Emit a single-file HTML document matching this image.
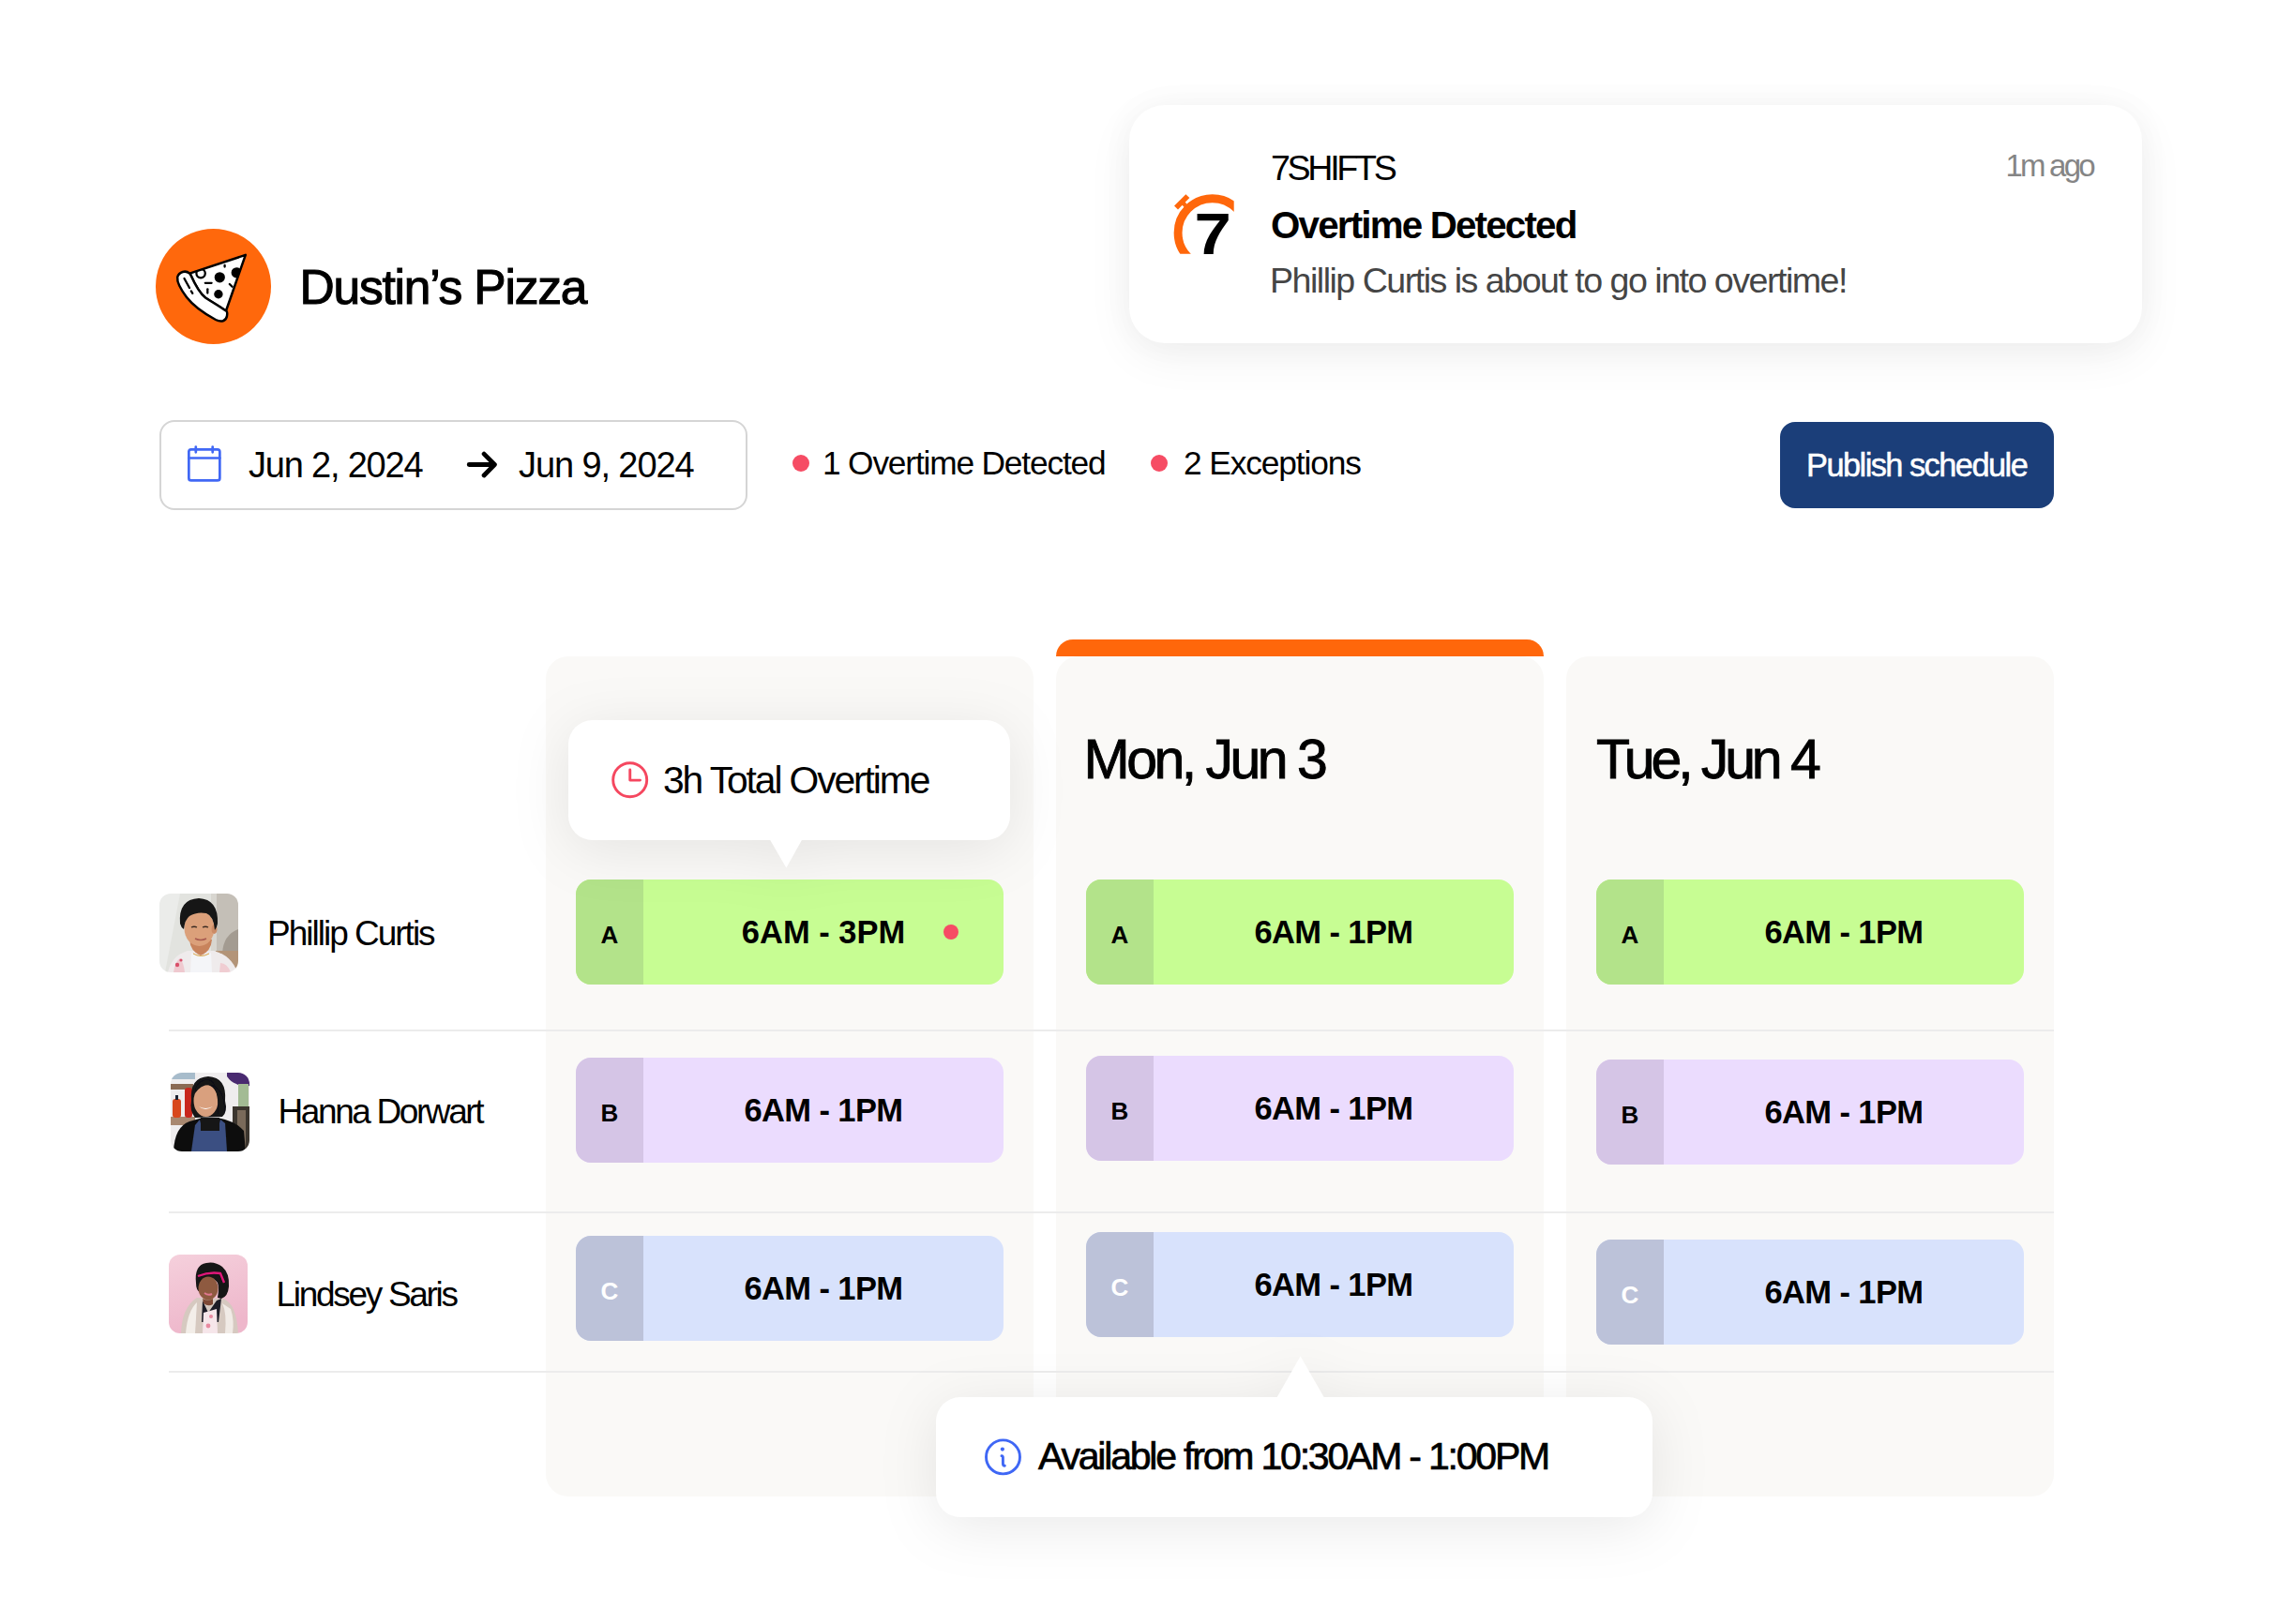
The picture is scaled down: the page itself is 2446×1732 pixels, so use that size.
<!DOCTYPE html>
<html><head><meta charset="utf-8">
<style>
*{margin:0;padding:0;box-sizing:border-box}
html,body{width:2446px;height:1732px;background:#fff;overflow:hidden}
body{position:relative;font-family:"Liberation Sans",Arial,sans-serif;color:#000}
.a{position:absolute}
.t{position:absolute;white-space:nowrap;line-height:1}
.panel{position:absolute;top:700px;width:520px;height:896px;background:#faf9f7;border-radius:24px}
.line{position:absolute;left:180px;width:2010px;height:2px;background:#ececec}
.shift{position:absolute;width:456px;height:112px;border-radius:16px;overflow:hidden}
.shift .tab{position:absolute;left:0;top:0;width:72px;height:100%}
.shift .ltr{position:absolute;left:0;width:72px;text-align:center;font-weight:700;font-size:26px;top:45.6px;line-height:1}
.shift .tm{position:absolute;left:72px;right:0;text-align:center;font-weight:700;font-size:34.5px;top:38.7px;line-height:1;letter-spacing:-0.6px}
.ga{background:#c7fd93}.ga .tab{background:#b3e38a}
.gb{background:#ebdcfe}.gb .tab{background:#d5c5e6}
.gc{background:#d8e2fc}.gc .tab{background:#bcc2d9}.gc .ltr{color:#fff}
.name{position:absolute;font-size:37px;letter-spacing:-2.4px;white-space:nowrap;line-height:1}
.av{position:absolute;width:84px;height:84px;border-radius:12px;overflow:hidden}
</style></head>
<body>

<!-- Logo -->
<div class="a" style="left:166px;top:244px;width:123px;height:123px;border-radius:50%;background:#ff680c"></div>
<div class="t" style="left:319.5px;top:281px;font-size:51.5px;letter-spacing:-1.2px;-webkit-text-stroke:1.1px #000">Dustin’s Pizza</div>


<!-- Pizza icon -->
<svg class="a" style="left:166px;top:244px" width="123" height="123" viewBox="166 244 123 123">
 <g fill="#fff" stroke="#000" stroke-width="2.5" stroke-linecap="round" stroke-linejoin="round">
  <path d="M202.2 291.6 L261.8 271.9 L241 331.5 C236 328 226 322 219 317.5 C213 313 209 306 203.3 293.3 Z"/>
  <path d="M202.2 291.6 C198 288 191 289.5 189.2 295.5 C188.5 301 193 309 199 317 C206 326 217 334 230 341 C236 344 241 342.5 242 337 C242.5 334 242 332 241 331.5 C236 328 226 322 219 317.5 C213 313 209 306 203.3 293.3 Z"/>
 </g>
 <g fill="#000">
  <circle cx="234.3" cy="295.8" r="5.6"/>
  <circle cx="232.9" cy="313.8" r="4.7"/>
 </g>
 <clipPath id="pz"><path d="M202.2 291.6 L261.8 271.9 L241 331.5 Z"/></clipPath>
 <g clip-path="url(#pz)">
  <circle cx="252.2" cy="290.8" r="5.6" fill="#000"/>
  <circle cx="214.1" cy="291.6" r="4.7" fill="none" stroke="#000" stroke-width="2.3"/>
 </g>
 <g stroke="#000" stroke-width="2.3" stroke-linecap="round" fill="none">
  <path d="M218.8 301.8 H225.6"/>
  <path d="M221.3 308.3 V312.6"/>
  <path d="M239.6 282.8 V284.6"/>
  <path d="M244.8 303 L247.6 305.8"/>
  <path d="M196.5 297 L202 307"/>
  <path d="M203.8 310.4 L205.3 312.8"/>
 </g>
</svg>

<!-- Calendar -->
<svg class="a" style="left:195px;top:470px" width="45" height="50" viewBox="195 470 45 50">
 <g fill="none" stroke="#4168f5" stroke-width="2.7" stroke-linecap="round" stroke-linejoin="round">
  <rect x="201.35" y="479.35" width="33" height="33.1" rx="2.5"/>
  <path d="M201.35 488.5 H234.35"/>
  <path d="M208.8 476.5 V482.3 M226.7 476.5 V482.3"/>
 </g>
</svg>

<!-- Arrow -->
<svg class="a" style="left:490px;top:475px" width="50" height="45" viewBox="490 475 50 45">
 <path d="M500.2 495.5 H527 M516.1 484.1 L527.4 495.5 L516.1 507" fill="none" stroke="#000" stroke-width="4.8" stroke-linecap="round" stroke-linejoin="round"/>
</svg>

<!-- Notification -->
<div class="a" style="left:1204px;top:112px;width:1080px;height:254px;border-radius:38px;background:#fff;box-shadow:0 0 36px rgba(0,0,0,0.035),0 14px 50px rgba(0,0,0,0.06)"></div>
<!-- 7shifts logo -->
<svg class="a" style="left:1240px;top:195px" width="90" height="90" viewBox="1240 195 90 90">
 <clipPath id="sc"><path d="M1240 195 H1315.7 V248 H1292.7 V270.7 H1240Z"/></clipPath>
 <g clip-path="url(#sc)">
  <circle cx="1292.7" cy="248.3" r="36.6" fill="none" stroke="#ff670b" stroke-width="8.9"/>
 </g>
 <g transform="rotate(-45 1260.2 215.3)" fill="#ff670b">
  <rect x="1251.45" y="212.5" width="17.5" height="5.6"/>
  <rect x="1258" y="216" width="4.4" height="5"/>
 </g>
 <text transform="translate(1273.6 270.8) scale(1.13 1)" font-family="Liberation Sans, Arial, sans-serif" font-weight="700" font-size="62.7" fill="#000">7</text>
</svg>

<div class="t" style="left:1355px;top:161px;font-size:37.6px;letter-spacing:-3.3px">7SHIFTS</div>
<div class="t" style="left:1355px;top:221px;font-size:40.3px;font-weight:700;letter-spacing:-1.8px">Overtime Detected</div>
<div class="t" style="left:1354px;top:281px;font-size:37.6px;color:#454545;letter-spacing:-1.5px">Phillip Curtis is about to go into overtime!</div>
<div class="t" style="left:2138.5px;top:160px;font-size:33px;color:#858585;letter-spacing:-2.8px">1m ago</div>

<!-- Date box -->
<div class="a" style="left:170px;top:448px;width:627px;height:96px;border:2px solid #d5d5d5;border-radius:16px"></div>
<div class="t" style="left:265px;top:477px;font-size:38px;letter-spacing:-1.2px">Jun 2, 2024</div>
<div class="t" style="left:553px;top:477px;font-size:38px;letter-spacing:-1.1px">Jun 9, 2024</div>
<div class="a" style="left:845px;top:485px;width:18px;height:18px;border-radius:50%;background:#f64c64"></div>
<div class="t" style="left:877px;top:476px;font-size:35.3px;letter-spacing:-1.17px">1 Overtime Detected</div>
<div class="a" style="left:1227px;top:485px;width:18px;height:18px;border-radius:50%;background:#f64c64"></div>
<div class="t" style="left:1262px;top:476px;font-size:35.3px;letter-spacing:-1.1px">2 Exceptions</div>

<!-- Button -->
<div class="a" style="left:1898px;top:450px;width:292px;height:92px;border-radius:16px;background:#1b3e79"></div>
<div class="t" style="left:1926px;top:479px;font-size:34.4px;color:#fff;letter-spacing:-1.55px;-webkit-text-stroke:0.5px #fff">Publish schedule</div>

<!-- Panels -->
<div class="panel" style="left:582px"></div>
<div class="a" style="left:1126px;top:682px;width:520px;height:18px;border-radius:20px 20px 0 0;background:#ff670b"></div>
<div class="panel" style="left:1126px"></div>
<div class="panel" style="left:1670px"></div>

<div class="t" style="left:1155.5px;top:780.5px;font-size:59px;letter-spacing:-3.5px;-webkit-text-stroke:0.9px #000">Mon, Jun 3</div>
<div class="t" style="left:1702px;top:780.5px;font-size:59px;letter-spacing:-4.1px;-webkit-text-stroke:0.9px #000">Tue, Jun 4</div>

<!-- Row lines -->
<div class="line" style="top:1098px"></div>
<div class="line" style="top:1292px"></div>
<div class="line" style="top:1462px"></div>


<!-- Avatars -->
<svg class="av" style="left:170px;top:953px" viewBox="0 0 84 84">
 <defs><filter id="bl1" x="-10%" y="-10%" width="120%" height="120%"><feGaussianBlur stdDeviation="0.6"/></filter></defs>
 <g filter="url(#bl1)">
 <rect width="84" height="84" fill="#e2e3df"/>
 <path d="M0 0 H22 L6 84 H0Z" fill="#ebecea"/>
 <rect x="55" y="0" width="29" height="64" fill="#c4bfb7"/>
 <rect x="55" y="0" width="6" height="64" fill="#d8d6d0"/>
 <path d="M67 64 Q68 44 84 38 V64Z" fill="#a39b91"/>
 <rect x="60" y="61" width="24" height="23" fill="#b39478"/>
 <path d="M9 84 Q13 66 30 61 L58 61 Q77 66 83 84Z" fill="#efebec"/>
 <path d="M15 84 Q17 72 22 69 Q26 74 27 84Z" fill="#efc9cf"/>
 <circle cx="19" cy="76" r="2.2" fill="#d94f6a"/><circle cx="23" cy="71" r="1.6" fill="#d94f6a"/>
 <path d="M64 84 L65 74 Q72 74 76 84Z" fill="#f0cdd2"/>
 <path d="M32 49 Q33 62 44 66 Q55 62 56 49Z" fill="#c8835c"/>
 <path d="M34 63 Q44 71 55 63 L56 84 H33Z" fill="#f4f5f8"/>
 <path d="M36 64 Q44 69 53 64" stroke="#d9a548" stroke-width="1" fill="none"/>
 <ellipse cx="42.5" cy="37" rx="16" ry="19" fill="#dba07a"/>
 <ellipse cx="58.5" cy="38" rx="3" ry="5" fill="#cc8b66"/>
 <path d="M22 32 Q20 6 42 5 Q63 6 62 32 Q61 37 59 39 Q58 24 50 21 Q40 19 32 24 Q27 28 26 38 Q23 36 22 32Z" fill="#141414"/>
 <path d="M34 36 Q37 34.5 40 36 M46 36 Q49 34.5 52 36" stroke="#3a2a20" stroke-width="1.3" fill="none"/>
 <path d="M38 48 Q44 51 50 48" stroke="#a85a50" stroke-width="1.5" fill="none"/>
 </g>
</svg>
<svg class="av" style="left:182px;top:1144px" viewBox="0 0 84 84">
 <defs><filter id="bl2" x="-10%" y="-10%" width="120%" height="120%"><feGaussianBlur stdDeviation="0.6"/></filter></defs>
 <g filter="url(#bl2)">
 <rect width="84" height="84" fill="#efedee"/>
 <rect x="0" y="0" width="26" height="7" fill="#a7bccb"/>
 <rect x="0" y="12" width="24" height="6" fill="#8a6a52"/>
 <rect x="0" y="47" width="26" height="9" fill="#a88870"/>
 <rect x="2" y="28" width="9" height="20" rx="3" fill="#d8461c"/>
 <rect x="5" y="24" width="3" height="5" fill="#1a2030"/>
 <rect x="15" y="16" width="8" height="32" rx="3" fill="#c8281e"/>
 <path d="M60 0 H84 V14 Q76 16 70 12 Q64 10 60 4Z" fill="#4a2a70"/>
 <rect x="72" y="12" width="11" height="26" fill="#a3bb94"/>
 <rect x="66" y="36" width="18" height="48" fill="#3a342e"/>
 <rect x="71" y="40" width="9" height="44" fill="#7a6a5a"/>
 <path d="M3 84 Q4 58 20 52 L34 48 L50 48 Q70 52 78 62 L80 84Z" fill="#111"/>
 <path d="M22 84 L26 56 L31 50 L34 62 L50 62 L53 50 L58 54 L60 84Z" fill="#3b4f82"/>
 <rect x="32" y="48" width="20" height="14" fill="#161616"/>
 <path d="M22 30 Q20 5 40 4 Q60 5 58 30 Q61 42 55 47 L26 48 Q20 41 22 30Z" fill="#121214"/>
 <ellipse cx="37.5" cy="30" rx="13" ry="17" fill="#d9a07e"/>
 <path d="M26 22 Q34 10 47 14 Q44 6 36 8 Q27 10 26 22Z" fill="#121214"/>
 <path d="M44 13 Q52 22 50 44 L57 44 Q59 20 44 13Z" fill="#121214"/>
 <path d="M30 36 Q37 42 45 36 Q37 40 30 36Z" fill="#fff"/>
 </g>
</svg>
<svg class="av" style="left:180px;top:1338px" viewBox="0 0 84 84">
 <defs><linearGradient id="pk" x1="0" y1="0" x2="0.3" y2="1"><stop offset="0" stop-color="#f5d0dc"/><stop offset="1" stop-color="#eeb7cb"/></linearGradient>
 <filter id="bl3" x="-10%" y="-10%" width="120%" height="120%"><feGaussianBlur stdDeviation="0.6"/></filter></defs>
 <g filter="url(#bl3)">
 <rect width="84" height="84" fill="url(#pk)"/>
 <path d="M13 84 Q14 56 30 46 L58 47 Q72 52 74 84Z" fill="#d6c9c0"/>
 <path d="M18 84 Q20 60 30 51 L28 84Z" fill="#f3eee9"/>
 <path d="M60 84 Q62 62 57 52 L66 58 Q70 70 68 84Z" fill="#f1ebe6"/>
 <path d="M36 49 L42 62 L51 49 L56 47 L53 72 L35 72Z" fill="#1c1e28"/>
 <path d="M37 62 L51 58 L52 84 L36 84Z" fill="#f6e6ea"/>
 <circle cx="45" cy="66" r="2" fill="#e88aa0"/><circle cx="42" cy="76" r="2.4" fill="#e88aa0"/>
 <path d="M29 30 Q27 11 40 9 Q49 7 57 13 Q65 20 64 34 Q63 45 56 47 L52 46 Q54 36 52 30 Q46 22 38 26 Q34 30 33 40 Q29 38 29 30Z" fill="#161212"/>
 <ellipse cx="42" cy="36" rx="10.5" ry="12.5" fill="#8e5a40"/>
 <path d="M36 47 Q42 50 47 47 L47 53 Q42 56 37 52Z" fill="#7e4a34"/>
 <path d="M31 23 Q43 18 55 20 L59 30" stroke="#e0157a" stroke-width="2.4" fill="none"/>
 <path d="M38 41 Q42 44 46 42" stroke="#e07890" stroke-width="2" fill="none"/>
 </g>
</svg>

<!-- Names -->
<div class="name" style="left:285px;top:977px;letter-spacing:-2px">Phillip Curtis</div>
<div class="name" style="left:296.5px;top:1167px;letter-spacing:-2.4px">Hanna Dorwart</div>
<div class="name" style="left:294.5px;top:1361.5px;letter-spacing:-2.3px">Lindsey Saris</div>

<!-- Shifts col1 -->
<div class="shift ga" style="left:614px;top:938px"><div class="tab"></div><div class="ltr">A</div><div class="tm" style="letter-spacing:0">6AM - 3PM</div></div>
<div class="shift gb" style="left:614px;top:1128px"><div class="tab"></div><div class="ltr">B</div><div class="tm">6AM - 1PM</div></div>
<div class="shift gc" style="left:614px;top:1318px"><div class="tab"></div><div class="ltr">C</div><div class="tm">6AM - 1PM</div></div>
<!-- col2 -->
<div class="shift ga" style="left:1158px;top:938px"><div class="tab"></div><div class="ltr">A</div><div class="tm">6AM - 1PM</div></div>
<div class="shift gb" style="left:1158px;top:1126px"><div class="tab"></div><div class="ltr">B</div><div class="tm">6AM - 1PM</div></div>
<div class="shift gc" style="left:1158px;top:1314px"><div class="tab"></div><div class="ltr">C</div><div class="tm">6AM - 1PM</div></div>
<!-- col3 -->
<div class="shift ga" style="left:1702px;top:938px"><div class="tab"></div><div class="ltr">A</div><div class="tm">6AM - 1PM</div></div>
<div class="shift gb" style="left:1702px;top:1130px"><div class="tab"></div><div class="ltr">B</div><div class="tm">6AM - 1PM</div></div>
<div class="shift gc" style="left:1702px;top:1322px"><div class="tab"></div><div class="ltr">C</div><div class="tm">6AM - 1PM</div></div>
<div class="a" style="left:1006px;top:986px;width:16px;height:16px;border-radius:50%;background:#f64c64"></div>

<!-- Tooltip 1 -->
<div class="a" style="left:0;top:0;width:2446px;height:1732px;filter:drop-shadow(0 10px 30px rgba(0,0,0,0.085))">
 <div class="a" style="left:606px;top:768px;width:471px;height:128px;border-radius:26px;background:#fff"></div>
 <svg class="a" style="left:815px;top:890px" width="46" height="40" viewBox="815 890 46 40"><path d="M820.7 895 L855.4 895 L838.4 925.5 Z" fill="#fff"/></svg>
</div>
<svg class="a" style="left:645px;top:805px" width="55" height="55" viewBox="645 805 55 55">
 <g fill="none" stroke="#f5475f" stroke-width="2.9" stroke-linecap="round" stroke-linejoin="round">
  <circle cx="671.7" cy="831.7" r="18"/>
  <path d="M671.75 821 V832.1 H682.5"/>
 </g>
</svg>
<div class="t" style="left:707px;top:812px;font-size:40.8px;letter-spacing:-2.1px">3h Total Overtime</div>

<!-- Tooltip 2 -->
<div class="a" style="left:0;top:0;width:2446px;height:1732px;filter:drop-shadow(0 10px 30px rgba(0,0,0,0.085))">
 <div class="a" style="left:998px;top:1490px;width:764px;height:128px;border-radius:26px;background:#fff"></div>
 <svg class="a" style="left:1355px;top:1440px" width="65" height="55" viewBox="1355 1440 65 55"><path d="M1361.2 1491 L1412.2 1491 L1386.6 1446.6 Z" fill="#fff"/></svg>
</div>
<svg class="a" style="left:1042px;top:1527px" width="55" height="55" viewBox="1042 1527 55 55">
 <g fill="none" stroke="#3f67f5" stroke-width="2.9" stroke-linecap="round" stroke-linejoin="round">
  <circle cx="1069.5" cy="1553.9" r="18"/>
  <path d="M1068 1552.6 Q1069.4 1552.8 1069.4 1554.5 V1561 Q1069.4 1563.2 1071.3 1563.2"/>
 </g>
 <circle cx="1068.9" cy="1545.6" r="2.1" fill="#3f67f5"/>
</svg>
<div class="t" style="left:1107px;top:1533px;font-size:41px;letter-spacing:-2.2px;-webkit-text-stroke:0.7px #000">Available from 10:30AM - 1:00PM</div>

</body></html>
